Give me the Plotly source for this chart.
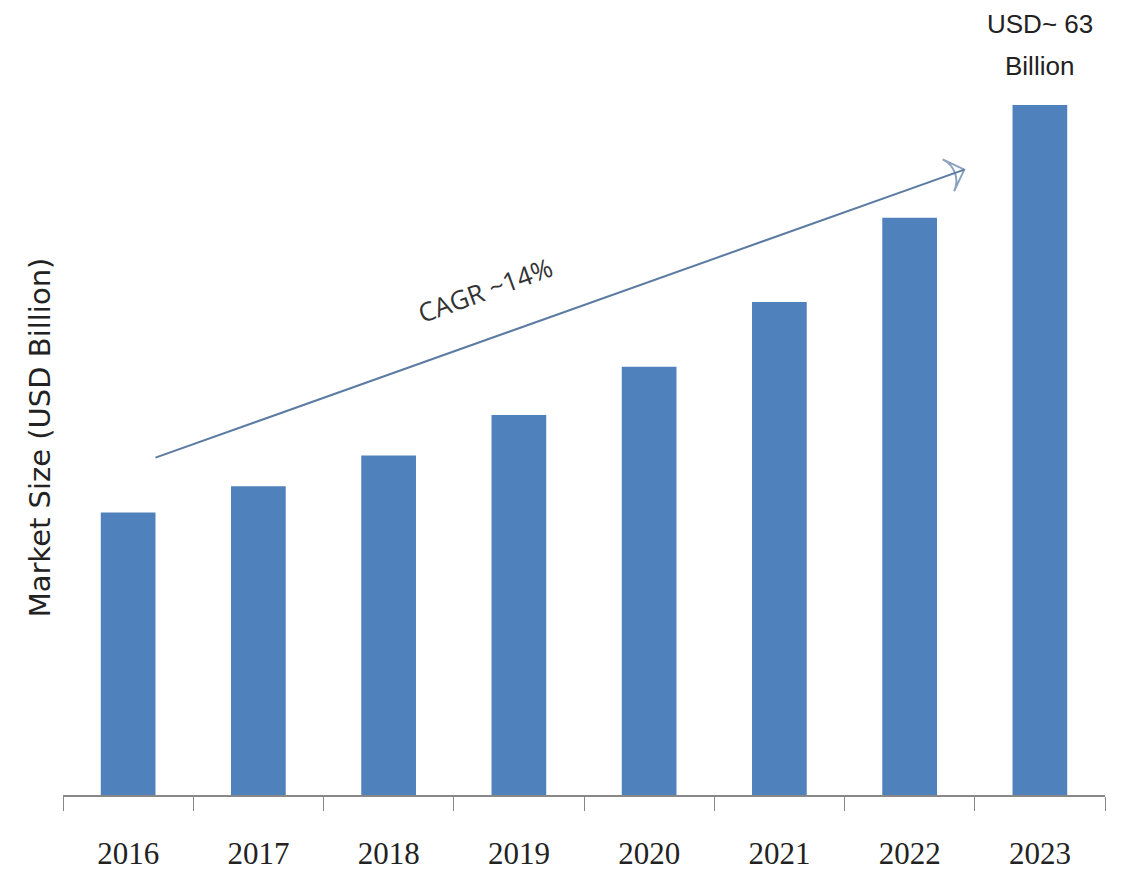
import plotly.graph_objects as go

years = ["2016", "2017", "2018", "2019", "2020", "2021", "2022", "2023"]
market_size = [25.8, 28.2, 31.0, 34.7, 39.1, 45.0, 52.7, 63.0]

arrow_x = [0.21, 6.42]
arrow_y = [30.8, 57.1]

fig = go.Figure()
fig.add_trace(go.Bar(
    x=years, y=market_size, width=0.42,
    marker=dict(color="#4f81bd", line=dict(width=0)),
    showlegend=False, hoverinfo="skip",
))
fig.add_trace(go.Scatter(
    x=arrow_x, y=arrow_y, mode="lines+markers", xaxis="x2",
    line=dict(color="#5b7ba3", width=2),
    marker=dict(symbol="arrow-wide-open", size=[0, 24], angleref="previous",
                color="#5b7ba3", line=dict(color="#5b7ba3", width=2)),
    showlegend=False, hoverinfo="skip",
))

fig.add_annotation(x=2.74, y=46.1, xref="x2", text="CAGR ~14%", showarrow=False,
                   textangle=-20, font=dict(family="Open Sans", size=26, color="#333333"))
fig.add_annotation(x=7, y=63.0, yshift=22, text="Billion", showarrow=False,
                   yanchor="bottom", font=dict(family="Liberation Sans", size=26, color="#222222"))
fig.add_annotation(x=7, y=63.0, yshift=64, text="USD~ 63", showarrow=False,
                   yanchor="bottom", font=dict(family="Liberation Sans", size=26, color="#222222"))

fig.update_layout(
    width=1134, height=869,
    margin=dict(l=55, r=37, t=72, b=82),
    plot_bgcolor="white", paper_bgcolor="white",
    xaxis=dict(
        type="category", showgrid=False, showline=True, linecolor="#888888", linewidth=1.5,
        ticks="outside", ticklen=14, tickcolor="#888888", tickson="boundaries",
        tickfont=dict(family="Liberation Serif", size=31, color="#222222"),
        ticklabelstandoff=30, automargin=False,
        range=[-0.5, 7.5],
    ),
    xaxis2=dict(overlaying="x", range=[-0.5, 7.5], visible=False),
    yaxis=dict(
        range=[0, 65.28], showgrid=False, showticklabels=False, zeroline=False,
        automargin=False,
        title=dict(text="Market Size (USD Billion)", standoff=2,
                   font=dict(family="DejaVu Sans", size=29, color="#222222")),
    ),
)
fig.write_html("out.html")
